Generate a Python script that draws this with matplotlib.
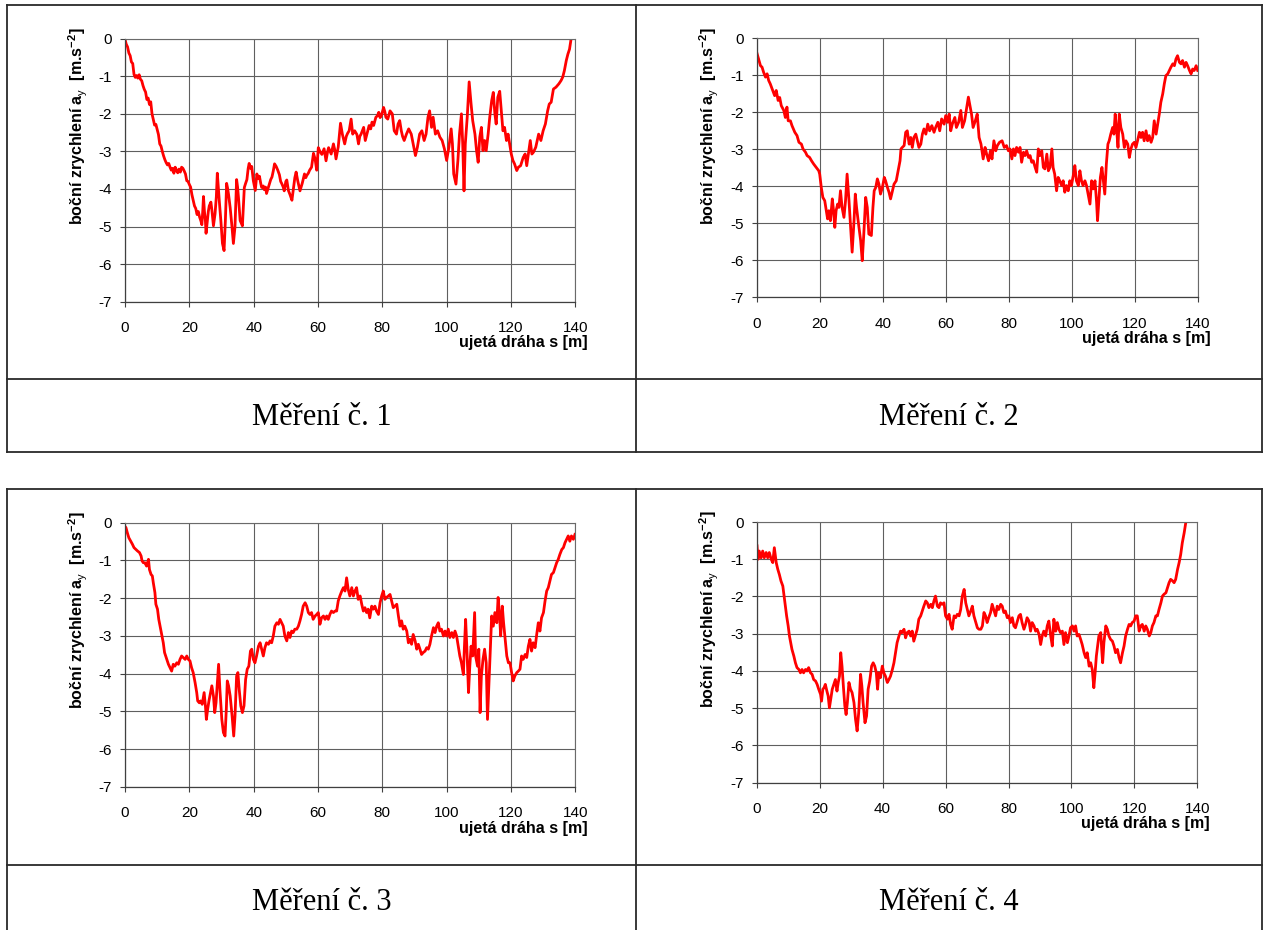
import numpy as np
import matplotlib
matplotlib.use("Agg")
import matplotlib.pyplot as plt

plt.rcParams['font.family'] = ['Liberation Sans', 'DejaVu Sans']
plt.rcParams['axes.unicode_minus'] = False
plt.rcParams['mathtext.fontset'] = 'custom'
plt.rcParams['mathtext.rm'] = 'Liberation Sans'
plt.rcParams['mathtext.bf'] = 'Liberation Sans:bold'

# (distance s [m], lateral acceleration a_y [m/s^2]) for each measurement run
run_1 = np.array([
    (0.0, -0.02), (0.4, -0.15), (0.8, -0.22), (1.2, -0.38), (1.6, -0.45), (2.0, -0.62),
    (2.4, -0.66), (2.8, -0.95), (3.2, -1.03), (3.6, -0.98), (4.0, -1.05), (4.4, -0.96),
    (4.8, -1.08), (5.2, -1.12), (5.6, -1.25), (6.0, -1.35), (6.4, -1.42), (6.8, -1.62),
    (7.2, -1.58), (7.6, -1.75), (8.0, -1.68), (8.4, -2.0), (8.8, -2.15), (9.2, -2.3),
    (9.6, -2.28), (10.0, -2.42), (10.4, -2.55), (10.8, -2.8), (11.2, -2.86), (11.6, -3.0),
    (12.0, -3.12), (12.4, -3.22), (12.8, -3.3), (13.2, -3.36), (13.6, -3.32), (14.0, -3.42),
    (14.4, -3.5), (14.8, -3.45), (15.2, -3.58), (15.6, -3.42), (16.0, -3.5), (16.4, -3.57),
    (16.8, -3.47), (17.2, -3.55), (17.6, -3.42), (18.0, -3.45), (18.4, -3.52), (18.8, -3.6),
    (19.2, -3.78), (19.6, -3.8), (20.0, -3.88), (20.4, -3.95), (20.8, -4.15), (21.2, -4.3),
    (21.6, -4.45), (22.0, -4.52), (22.4, -4.68), (22.8, -4.6), (23.2, -4.75), (23.6, -4.85),
    (23.9, -4.95), (24.2, -4.55), (24.4, -4.2), (24.7, -4.6), (25.0, -4.85), (25.2, -5.18),
    (25.6, -4.85), (25.9, -4.6), (26.2, -4.45), (26.7, -4.35), (27.0, -4.55), (27.5, -4.98),
    (28.0, -4.66), (28.4, -4.2), (28.7, -3.58), (29.0, -3.95), (29.3, -4.3), (29.8, -4.84),
    (30.3, -5.45), (30.8, -5.64), (31.2, -4.85), (31.6, -3.85), (31.9, -3.98), (32.2, -4.15),
    (32.7, -4.5), (33.2, -4.95), (33.7, -5.45), (34.2, -5.0), (34.7, -3.75), (35.0, -3.95),
    (35.3, -4.25), (35.8, -4.84), (36.5, -4.98), (37.1, -3.96), (37.5, -3.85), (37.9, -3.75),
    (38.3, -3.45), (38.6, -3.32), (39.0, -3.45), (39.4, -3.4), (39.9, -3.78), (40.5, -4.04),
    (41.0, -3.6), (41.4, -3.72), (41.8, -3.66), (42.2, -3.85), (42.5, -3.96), (43.0, -3.92),
    (43.3, -4.02), (43.7, -3.95), (44.0, -4.12), (44.5, -3.98), (44.9, -3.87), (45.3, -3.75),
    (45.7, -3.68), (46.1, -3.52), (46.5, -3.33), (47.0, -3.4), (47.5, -3.5), (48.0, -3.62),
    (48.4, -3.8), (48.7, -3.85), (49.2, -3.95), (49.5, -4.05), (50.0, -3.8), (50.3, -3.76),
    (50.8, -4.04), (51.3, -4.15), (51.9, -4.3), (52.4, -3.96), (52.8, -3.7), (53.2, -3.55),
    (53.7, -3.78), (54.0, -3.9), (54.4, -4.05), (55.1, -3.85), (55.5, -3.7), (55.8, -3.6),
    (56.2, -3.7), (56.5, -3.64), (57.0, -3.58), (57.4, -3.5), (58.0, -3.42), (58.6, -3.05),
    (59.1, -3.2), (59.6, -3.5), (60.1, -2.9), (60.6, -3.0), (61.2, -3.08), (61.9, -2.93),
    (62.5, -3.25), (63.0, -3.0), (63.3, -2.9), (64.1, -3.07), (64.8, -2.8), (65.2, -2.95),
    (65.6, -3.2), (66.3, -2.88), (67.0, -2.25), (67.6, -2.55), (68.3, -2.8), (68.8, -2.6),
    (69.2, -2.52), (69.7, -2.45), (70.3, -2.14), (70.8, -2.54), (71.4, -2.45), (72.1, -2.55),
    (72.6, -2.8), (73.0, -2.6), (73.4, -2.54), (74.2, -2.36), (74.7, -2.71), (75.2, -2.54),
    (75.9, -2.31), (76.4, -2.4), (76.8, -2.22), (77.3, -2.31), (78.0, -2.09), (78.5, -2.05),
    (78.9, -1.96), (79.3, -2.1), (79.7, -2.05), (80.4, -1.83), (80.8, -1.95), (81.1, -2.09),
    (81.7, -2.14), (82.4, -1.92), (83.1, -2.0), (83.7, -2.45), (84.4, -2.54), (84.9, -2.27),
    (85.4, -2.18), (85.9, -2.45), (86.3, -2.6), (86.8, -2.71), (87.5, -2.54), (88.2, -2.4),
    (89.0, -2.54), (89.6, -2.8), (90.3, -3.11), (90.9, -2.89), (91.6, -2.54), (92.3, -2.45),
    (93.0, -2.71), (93.6, -2.54), (94.2, -2.09), (94.7, -1.92), (95.3, -2.36), (95.8, -2.09),
    (96.5, -2.54), (97.2, -2.45), (97.9, -2.62), (98.6, -2.71), (99.3, -2.93), (100.0, -3.24),
    (100.7, -2.89), (101.4, -2.4), (101.8, -2.8), (102.2, -3.6), (102.9, -3.87), (103.5, -3.24),
    (104.0, -2.54), (104.6, -2.0), (105.0, -2.8), (105.4, -4.05), (105.8, -2.8), (106.4, -2.09),
    (107.0, -1.15), (107.6, -1.74), (108.1, -2.18), (108.8, -2.54), (109.3, -2.98), (109.8, -3.29),
    (110.3, -2.62), (110.8, -2.36), (111.3, -2.98), (111.8, -2.71), (112.3, -2.98), (112.9, -2.54),
    (113.4, -2.09), (114.0, -1.65), (114.5, -1.43), (115.0, -2.0), (115.4, -2.27), (115.9, -1.56),
    (116.5, -1.40), (117.0, -1.92), (117.5, -2.45), (118.0, -2.36), (118.6, -2.71), (119.1, -2.54),
    (119.6, -2.8), (120.1, -3.07), (120.6, -3.24), (121.1, -3.33), (121.8, -3.51), (122.3, -3.42),
    (123.0, -3.38), (123.8, -3.16), (124.4, -3.07), (124.9, -3.38), (125.4, -3.07), (126.0, -2.71),
    (126.5, -3.07), (127.0, -3.02), (127.7, -2.89), (128.6, -2.54), (129.3, -2.71), (130.0, -2.45),
    (130.7, -2.27), (131.4, -1.92), (131.9, -1.74), (132.5, -1.69), (133.2, -1.34), (134.0, -1.29),
    (134.9, -1.2), (135.6, -1.11), (136.1, -1.02), (136.6, -0.85), (137.2, -0.58), (137.7, -0.41),
    (138.2, -0.28), (138.7, 0.0),
])

run_2 = np.array([
    (0.0, -0.38), (0.6, -0.56), (1.2, -0.74), (1.7, -0.78), (2.2, -0.92), (2.8, -1.05),
    (3.3, -0.96), (3.8, -1.14), (4.3, -1.23), (5.1, -1.41), (5.7, -1.55), (6.2, -1.41),
    (6.8, -1.68), (7.3, -1.6), (7.8, -1.82), (8.6, -1.95), (9.1, -2.14), (9.6, -1.86),
    (10.0, -2.23), (10.7, -2.23), (11.2, -2.36), (12.1, -2.54), (12.8, -2.63), (13.4, -2.81),
    (14.2, -2.86), (14.7, -2.99), (15.5, -3.08), (16.0, -3.17), (16.8, -3.22), (17.4, -3.31),
    (18.1, -3.4), (18.9, -3.49), (19.7, -3.58), (20.0, -3.67), (20.5, -4.03), (21.0, -4.3),
    (21.6, -4.39), (22.1, -4.66), (22.5, -4.88), (22.9, -4.66), (23.4, -4.93), (24.0, -4.34),
    (24.4, -4.66), (24.8, -5.11), (25.2, -4.66), (25.7, -4.48), (26.1, -4.57), (26.6, -4.12),
    (27.1, -4.57), (27.7, -4.84), (28.2, -4.39), (28.7, -3.67), (29.3, -4.39), (29.8, -5.11),
    (30.3, -5.78), (30.9, -4.93), (31.3, -4.21), (31.7, -4.57), (32.2, -4.93), (33.0, -5.47),
    (33.5, -6.01), (34.0, -5.29), (34.6, -4.3), (35.1, -4.57), (35.6, -5.29), (36.4, -5.33),
    (36.9, -4.57), (37.3, -4.12), (37.8, -4.03), (38.3, -3.8), (38.8, -3.94), (39.3, -4.21),
    (39.9, -4.03), (40.5, -3.76), (40.9, -3.85), (41.5, -4.03), (42.0, -4.16), (42.5, -4.34),
    (43.1, -4.12), (43.6, -3.94), (44.3, -3.85), (44.9, -3.58), (45.5, -3.31), (45.8, -2.99),
    (46.2, -2.95), (46.8, -2.9), (47.3, -2.54), (47.8, -2.5), (48.4, -2.86), (48.9, -2.68),
    (49.4, -2.95), (49.9, -2.68), (50.5, -2.59), (51.0, -2.77), (51.5, -2.95), (52.1, -2.86),
    (52.6, -2.59), (53.1, -2.45), (53.7, -2.59), (54.3, -2.32), (54.9, -2.5), (55.6, -2.36),
    (56.3, -2.54), (56.8, -2.41), (57.5, -2.27), (58.1, -2.5), (58.7, -2.18), (59.5, -2.32),
    (60.0, -2.09), (60.6, -2.27), (61.1, -2.05), (61.6, -2.5), (62.1, -2.32), (62.9, -2.14),
    (63.4, -2.41), (64.1, -2.27), (64.8, -1.95), (65.3, -2.41), (66.0, -2.23), (66.6, -1.91),
    (67.2, -1.59), (67.7, -1.82), (68.2, -2.05), (68.7, -2.41), (69.4, -2.23), (70.0, -2.05),
    (70.6, -2.68), (71.2, -2.86), (71.9, -3.26), (72.5, -2.95), (73.0, -3.13), (73.6, -3.31),
    (74.2, -3.04), (74.7, -3.26), (75.3, -2.77), (75.9, -3.04), (76.4, -2.9), (77.1, -2.81),
    (77.9, -2.77), (78.6, -2.95), (79.3, -2.9), (79.9, -3.04), (80.4, -2.99), (81.0, -3.26),
    (81.5, -2.99), (82.0, -3.17), (82.5, -2.95), (83.1, -3.08), (83.6, -2.95), (84.1, -3.35),
    (84.7, -3.08), (85.2, -3.17), (85.7, -3.04), (86.3, -3.22), (86.8, -3.17), (87.3, -3.35),
    (87.8, -3.31), (88.4, -3.49), (88.9, -3.62), (89.4, -2.99), (89.9, -3.17), (90.5, -3.04),
    (91.0, -3.49), (91.5, -3.53), (92.1, -3.13), (92.6, -3.58), (93.1, -3.49), (93.7, -2.99),
    (94.1, -3.49), (94.6, -3.67), (95.2, -4.12), (95.7, -3.76), (96.2, -3.85), (96.8, -3.98),
    (97.3, -3.85), (97.8, -4.16), (98.3, -3.98), (98.9, -4.12), (99.4, -3.85), (99.9, -3.98),
    (100.5, -3.71), (101.0, -3.44), (101.5, -3.85), (102.1, -3.98), (102.6, -3.58), (103.1, -3.85),
    (103.6, -3.98), (104.2, -3.85), (104.7, -3.98), (105.2, -4.21), (105.8, -4.48), (106.3, -3.85),
    (106.8, -4.07), (107.4, -3.85), (107.9, -4.43), (108.2, -4.93), (108.6, -4.39), (109.1, -3.76),
    (109.6, -3.49), (110.1, -3.89), (110.5, -4.21), (111.0, -3.40), (111.5, -2.86), (111.9, -2.77),
    (112.4, -2.59), (113.0, -2.41), (113.4, -2.59), (113.8, -2.05), (114.3, -2.5), (114.7, -2.95),
    (115.1, -2.05), (115.6, -2.41), (116.2, -2.59), (116.7, -2.95), (117.2, -2.77), (117.8, -2.86),
    (118.3, -3.22), (118.8, -2.99), (119.3, -2.86), (119.9, -2.81), (120.4, -2.95), (120.9, -2.77),
    (121.5, -2.54), (122.0, -2.68), (122.5, -2.54), (123.0, -2.77), (123.6, -2.5), (124.1, -2.77),
    (124.6, -2.63), (125.2, -2.81), (125.7, -2.68), (126.2, -2.23), (126.8, -2.59), (127.3, -2.32),
    (127.8, -2.05), (128.3, -1.73), (128.9, -1.5), (129.4, -1.23), (129.9, -1.01), (130.5, -0.96),
    (131.0, -0.87), (131.5, -0.78), (132.1, -0.69), (132.6, -0.74), (133.1, -0.56), (133.6, -0.47),
    (134.2, -0.65), (134.7, -0.69), (135.2, -0.6), (135.8, -0.78), (136.3, -0.65), (136.8, -0.74),
    (137.4, -0.87), (137.9, -0.96), (138.4, -0.83), (138.9, -0.87), (139.5, -0.74), (140.0, -0.87),
])

run_3 = np.array([
    (0.0, -0.1), (0.3, -0.13), (0.7, -0.26), (1.2, -0.4), (1.8, -0.49), (2.3, -0.57),
    (2.8, -0.66), (3.4, -0.71), (3.9, -0.75), (4.5, -0.79), (5.0, -0.88), (5.3, -1.01),
    (5.7, -1.06), (6.2, -1.06), (6.7, -1.15), (7.3, -0.97), (7.6, -1.24), (8.1, -1.37),
    (8.5, -1.41), (8.8, -1.59), (9.3, -1.85), (9.6, -2.16), (10.1, -2.29), (10.5, -2.56),
    (10.9, -2.74), (11.4, -2.96), (11.9, -3.18), (12.3, -3.44), (13.0, -3.62), (13.5, -3.75),
    (14.0, -3.84), (14.5, -3.93), (15.0, -3.75), (15.5, -3.8), (16.1, -3.71), (16.6, -3.75),
    (17.1, -3.62), (17.6, -3.53), (18.1, -3.57), (18.7, -3.62), (19.2, -3.53), (19.7, -3.62),
    (20.2, -3.66), (20.7, -3.84), (21.2, -3.97), (21.8, -4.24), (22.3, -4.5), (22.6, -4.72),
    (23.1, -4.77), (23.5, -4.72), (24.0, -4.81), (24.6, -4.5), (25.0, -4.85), (25.3, -5.21),
    (25.7, -4.94), (26.1, -4.72), (26.6, -4.5), (27.0, -4.32), (27.5, -4.59), (27.9, -5.03),
    (28.3, -4.77), (28.7, -4.24), (29.1, -3.75), (29.5, -4.41), (30.1, -5.21), (30.6, -5.56),
    (31.1, -5.65), (31.5, -4.94), (31.8, -4.19), (32.2, -4.32), (32.7, -4.59), (33.3, -5.12),
    (33.8, -5.65), (34.2, -5.12), (34.7, -4.06), (35.1, -3.97), (35.5, -4.41), (36.0, -4.85),
    (36.5, -5.03), (37.0, -4.85), (37.5, -4.15), (38.0, -3.88), (38.5, -3.8), (39.0, -3.4),
    (39.4, -3.35), (39.9, -3.62), (40.4, -3.71), (40.9, -3.53), (41.5, -3.27), (42.0, -3.18),
    (42.5, -3.35), (43.0, -3.53), (43.5, -3.31), (44.0, -3.18), (44.6, -3.22), (45.1, -3.13),
    (45.6, -3.18), (46.1, -3.0), (46.6, -2.74), (47.2, -2.65), (47.7, -2.69), (48.2, -2.56),
    (48.7, -2.65), (49.2, -2.74), (49.7, -3.0), (50.3, -3.13), (50.8, -2.91), (51.3, -3.04),
    (51.8, -2.87), (52.3, -2.91), (52.8, -2.82), (53.4, -2.82), (53.9, -2.74), (54.4, -2.6),
    (54.9, -2.43), (55.4, -2.21), (56.0, -2.12), (56.5, -2.21), (57.0, -2.38), (57.5, -2.43),
    (58.0, -2.38), (58.5, -2.56), (59.1, -2.47), (59.6, -2.43), (60.1, -2.38), (60.6, -2.69),
    (61.1, -2.52), (61.7, -2.47), (62.2, -2.56), (62.7, -2.47), (63.2, -2.56), (63.7, -2.43),
    (64.2, -2.34), (64.8, -2.38), (65.3, -2.34), (65.8, -2.34), (66.3, -2.07), (66.8, -1.94),
    (67.4, -1.81), (67.9, -1.72), (68.4, -1.81), (68.9, -1.46), (69.4, -1.77), (69.9, -1.94),
    (70.5, -1.72), (71.0, -1.94), (71.5, -1.81), (72.0, -1.72), (72.5, -2.03), (73.1, -1.94),
    (73.6, -2.16), (74.1, -2.34), (74.6, -2.25), (75.1, -2.38), (75.6, -2.29), (76.1, -2.52),
    (76.7, -2.21), (77.2, -2.29), (77.7, -2.21), (78.2, -2.34), (78.8, -2.43), (79.3, -2.12),
    (79.8, -1.94), (80.3, -1.81), (80.8, -2.03), (81.3, -1.98), (81.9, -1.94), (82.4, -1.9),
    (82.9, -2.07), (83.4, -2.25), (83.9, -2.21), (84.5, -2.16), (85.0, -2.47), (85.5, -2.74),
    (86.0, -2.6), (86.5, -2.82), (87.0, -2.74), (87.6, -2.87), (88.1, -3.18), (88.6, -3.09),
    (89.1, -3.22), (89.6, -2.96), (90.2, -3.13), (90.7, -3.35), (91.2, -3.22), (91.7, -3.35),
    (92.2, -3.49), (92.7, -3.44), (93.3, -3.4), (93.8, -3.31), (94.3, -3.35), (94.8, -3.22),
    (95.3, -3.0), (95.9, -2.78), (96.4, -2.91), (96.9, -2.74), (97.4, -2.65), (97.9, -2.87),
    (98.4, -2.82), (99.0, -3.0), (99.5, -2.87), (100.0, -3.0), (100.5, -2.82), (101.0, -3.04),
    (101.6, -2.91), (102.1, -3.04), (102.6, -2.87), (103.1, -3.0), (103.6, -3.27), (104.1, -3.53),
    (104.6, -3.71), (105.2, -4.02), (105.5, -3.35), (105.9, -2.56), (106.3, -3.35), (106.8, -4.5),
    (107.2, -3.8), (107.6, -3.27), (108.1, -3.53), (108.7, -2.38), (109.0, -3.53), (109.6, -3.8),
    (110.0, -3.35), (110.4, -5.03), (110.8, -4.06), (111.3, -3.62), (111.8, -3.35), (112.3, -3.71),
    (112.7, -5.21), (113.2, -4.15), (113.6, -3.27), (114.0, -2.47), (114.5, -2.74), (115.0, -2.38),
    (115.6, -2.65), (116.0, -1.98), (116.4, -2.38), (116.8, -3.0), (117.3, -2.21), (117.7, -2.65),
    (118.1, -3.0), (118.7, -3.53), (119.2, -3.71), (119.7, -3.71), (120.2, -3.97), (120.7, -4.19),
    (121.2, -4.06), (121.8, -3.97), (122.3, -3.93), (122.8, -3.88), (123.3, -3.53), (123.8, -3.62),
    (124.4, -3.49), (124.9, -3.57), (125.4, -3.27), (125.9, -3.09), (126.4, -3.4), (126.9, -3.18),
    (127.5, -3.31), (128.0, -2.96), (128.5, -2.65), (129.0, -2.87), (129.5, -2.52), (130.1, -2.38),
    (130.6, -2.07), (131.1, -1.81), (131.6, -1.72), (132.1, -1.54), (132.6, -1.37), (133.2, -1.32),
    (133.7, -1.19), (134.2, -1.06), (134.7, -0.97), (135.2, -0.84), (135.8, -0.71), (136.3, -0.66),
    (136.8, -0.53), (137.3, -0.44), (137.8, -0.35), (138.3, -0.49), (138.8, -0.35), (139.4, -0.44),
    (139.9, -0.31),
])

run_4 = np.array([
    (0.1, -0.64), (0.4, -1.0), (0.8, -0.78), (1.4, -0.96), (1.9, -0.78), (2.4, -0.96),
    (3.0, -0.82), (3.5, -0.96), (4.0, -0.82), (4.6, -1.0), (5.1, -1.09), (5.6, -0.69),
    (6.2, -1.09), (6.7, -1.27), (7.2, -1.41), (7.7, -1.58), (8.3, -1.72), (8.7, -1.99),
    (9.1, -2.26), (9.5, -2.52), (10.0, -2.79), (10.4, -3.06), (10.8, -3.24), (11.2, -3.42),
    (11.8, -3.6), (12.3, -3.78), (12.8, -3.91), (13.4, -3.96), (13.9, -4.05), (14.4, -3.96),
    (14.9, -4.05), (15.5, -3.96), (16.0, -4.0), (16.5, -3.91), (17.1, -4.05), (17.6, -4.09),
    (18.1, -4.23), (18.7, -4.27), (19.2, -4.36), (19.7, -4.49), (20.3, -4.63), (20.6, -4.81),
    (21.0, -4.49), (21.4, -4.45), (21.8, -4.36), (22.3, -4.54), (22.7, -4.67), (23.1, -4.99),
    (23.5, -4.76), (24.0, -4.49), (24.5, -4.36), (25.0, -4.23), (25.5, -4.54), (25.9, -4.31),
    (26.3, -4.14), (26.7, -3.51), (27.1, -3.87), (27.6, -4.49), (28.0, -4.94), (28.4, -5.17),
    (28.8, -4.85), (29.3, -4.31), (29.8, -4.49), (30.3, -4.58), (30.9, -4.85), (31.4, -5.3),
    (31.9, -5.61), (32.4, -5.12), (33.0, -4.09), (33.4, -4.4), (33.8, -4.85), (34.4, -5.39),
    (34.9, -5.21), (35.4, -4.49), (35.9, -4.27), (36.5, -3.87), (37.0, -3.78), (37.5, -3.87),
    (38.0, -4.05), (38.4, -4.49), (38.8, -4.05), (39.3, -4.18), (39.9, -3.87), (40.4, -4.05),
    (40.9, -4.14), (41.5, -4.31), (42.0, -4.23), (42.5, -4.14), (43.1, -3.96), (43.6, -3.78),
    (44.1, -3.51), (44.6, -3.24), (45.2, -3.06), (45.7, -2.93), (46.2, -2.97), (46.8, -2.88),
    (47.3, -3.11), (47.8, -2.97), (48.4, -2.93), (48.9, -3.06), (49.4, -2.93), (49.9, -3.2),
    (50.5, -3.02), (51.0, -2.88), (51.5, -2.61), (52.1, -2.52), (52.6, -2.39), (53.1, -2.26),
    (53.7, -2.12), (54.2, -2.17), (54.7, -2.3), (55.3, -2.21), (55.8, -2.3), (56.3, -2.12),
    (56.8, -1.99), (57.4, -2.26), (57.9, -2.3), (58.4, -2.17), (58.9, -2.21), (59.5, -2.17),
    (60.0, -2.52), (60.6, -2.61), (61.1, -2.48), (61.6, -2.75), (62.1, -2.88), (62.7, -2.52),
    (63.2, -2.57), (63.7, -2.48), (64.3, -2.52), (64.8, -2.35), (65.3, -1.99), (65.9, -1.81),
    (66.4, -2.17), (66.9, -2.35), (67.4, -2.52), (68.0, -2.39), (68.5, -2.26), (69.0, -2.52),
    (69.6, -2.7), (70.1, -2.84), (70.6, -2.88), (71.2, -2.88), (71.7, -2.79), (72.2, -2.43),
    (72.7, -2.52), (73.2, -2.7), (73.7, -2.57), (74.3, -2.43), (74.8, -2.21), (75.3, -2.35),
    (75.9, -2.52), (76.4, -2.26), (76.9, -2.35), (77.5, -2.21), (78.0, -2.26), (78.5, -2.43),
    (79.0, -2.39), (79.6, -2.57), (80.1, -2.52), (80.6, -2.7), (81.2, -2.57), (81.7, -2.79),
    (82.2, -2.84), (82.8, -2.66), (83.3, -2.52), (83.8, -2.48), (84.3, -2.7), (84.9, -2.88),
    (85.4, -2.75), (85.9, -2.57), (86.5, -2.66), (87.0, -2.93), (87.5, -2.7), (88.1, -2.79),
    (88.6, -2.93), (89.1, -2.88), (89.7, -3.02), (90.2, -3.29), (90.7, -3.06), (91.2, -2.93),
    (91.8, -3.06), (92.3, -2.79), (92.8, -2.66), (93.4, -3.06), (93.9, -3.33), (94.4, -2.61),
    (95.0, -2.93), (95.5, -2.7), (96.0, -2.88), (96.5, -2.97), (97.1, -2.93), (97.6, -3.29),
    (98.1, -2.97), (98.7, -3.24), (99.2, -3.06), (99.7, -2.84), (100.3, -2.79), (100.8, -2.93),
    (101.3, -2.79), (101.8, -3.06), (102.4, -3.02), (102.9, -3.15), (103.4, -3.29), (104.0, -3.51),
    (104.5, -3.64), (105.0, -3.51), (105.6, -3.87), (106.1, -3.78), (106.6, -3.96), (107.1, -4.45),
    (107.5, -4.05), (107.9, -3.6), (108.3, -3.33), (108.7, -3.06), (109.3, -2.97), (109.6, -3.42),
    (109.9, -3.78), (110.3, -3.24), (110.9, -2.79), (111.4, -2.88), (111.9, -3.06), (112.4, -3.15),
    (113.0, -3.2), (113.5, -3.33), (114.0, -3.51), (114.6, -3.42), (115.1, -3.64), (115.6, -3.78),
    (116.2, -3.51), (116.7, -3.33), (117.2, -3.06), (117.8, -2.88), (118.3, -2.75), (118.8, -2.79),
    (119.3, -2.7), (119.9, -2.66), (120.4, -2.52), (120.9, -2.52), (121.5, -2.93), (122.0, -2.79),
    (122.5, -2.75), (123.1, -2.93), (123.6, -2.79), (124.1, -2.88), (124.7, -3.06), (125.2, -2.97),
    (125.7, -2.79), (126.2, -2.7), (126.8, -2.52), (127.3, -2.52), (127.8, -2.35), (128.4, -2.17),
    (128.9, -1.99), (129.4, -1.94), (130.0, -1.9), (130.5, -1.76), (131.0, -1.63), (131.5, -1.54),
    (132.1, -1.58), (132.6, -1.63), (133.1, -1.54), (133.7, -1.27), (134.2, -1.09), (134.7, -0.87),
    (135.2, -0.56), (135.8, -0.29), (136.3, -0.02),
])

runs = [run_1, run_2, run_3, run_4]
captions = ["Měření č. 1", "Měření č. 2", "Měření č. 3", "Měření č. 4"]
x_ticks = [0, 20, 40, 60, 80, 100, 120, 140]
y_ticks = [0, -1, -2, -3, -4, -5, -6, -7]
x_label = "ujetá dráha s [m]"
y_label = r"boční zrychlení a$_\mathrm{y}$  [m.s$^\mathbf{-2}$]"

W, H = 1264, 930
fig = plt.figure(figsize=(W / 100, H / 100), dpi=100)

# Background layer in pixel units for the table frame and captions
bg = fig.add_axes([0, 0, 1, 1])
bg.set_xlim(0, W)
bg.set_ylim(H, 0)
bg.axis('off')

frame_kw = dict(color='#2a2a2a', lw=1.3, solid_capstyle='projecting')


def hline(y, x0=7, x1=1262):
    bg.plot([x0, x1], [y, y], **frame_kw)


def vline(x, y0, y1):
    bg.plot([x, x], [y0, y1], **frame_kw)


# upper table block
hline(5)
hline(379)
hline(452)
vline(7, 5, 452)
vline(636, 5, 452)
vline(1262, 5, 452)
# lower table block (continues past the bottom edge)
hline(489)
hline(865)
vline(7, 489, 940)
vline(636, 489, 940)
vline(1262, 489, 940)

caption_pos = [(321.5, 425), (949, 425), (321.5, 910), (949, 910)]
for (cx, cy), text in zip(caption_pos, captions):
    bg.text(cx, cy, text, ha='center', va='baseline', fontsize=22,
            family=['Liberation Serif', 'DejaVu Serif'], color='black')

# plot areas (left, top, right, bottom) in pixels
panels = [
    (125.0, 38.7, 575.3, 301.7),
    (756.7, 38.3, 1197.7, 297.3),
    (125.0, 522.7, 575.3, 787.0),
    (756.7, 522.0, 1197.4, 782.7),
]

for (l, t, r, b), run in zip(panels, runs):
    wpx, hpx = r - l, b - t
    ax = fig.add_axes([l / W, 1 - b / H, wpx / W, hpx / H])
    ax.plot(run[:, 0], run[:, 1], color='#ff0000', lw=2.0, solid_joinstyle='round')
    ax.set_xlim(0, 140)
    ax.set_ylim(-7, 0)
    ax.set_xticks(x_ticks)
    ax.set_yticks(y_ticks)
    ax.set_facecolor('white')
    ax.grid(True, color='#5f5f5f', lw=0.8)
    ax.set_axisbelow(True)
    for side in ['top', 'right']:
        ax.spines[side].set_color('#6a6a6a')
        ax.spines[side].set_linewidth(0.8)
    for side in ['left', 'bottom']:
        ax.spines[side].set_color('#404040')
        ax.spines[side].set_linewidth(0.9)
    ax.tick_params(axis='y', direction='out', length=3.5, width=0.8, pad=6.0,
                   labelsize=11, color='#404040', labelcolor='black')
    ax.tick_params(axis='x', direction='out', length=3.5, width=0.8, pad=10.5,
                   labelsize=11, color='#404040', labelcolor='black')
    ax.text(-47 / wpx, 1 - 87.5 / hpx, y_label, rotation=90, ha='center', va='center',
            transform=ax.transAxes, fontsize=11.5, fontweight='bold')
    ax.text(1 + 12.5 / wpx, -41 / hpx, x_label, ha='right', va='center',
            transform=ax.transAxes, fontsize=11.5, fontweight='bold')

fig.savefig('out.png', dpi=100, facecolor='white')
